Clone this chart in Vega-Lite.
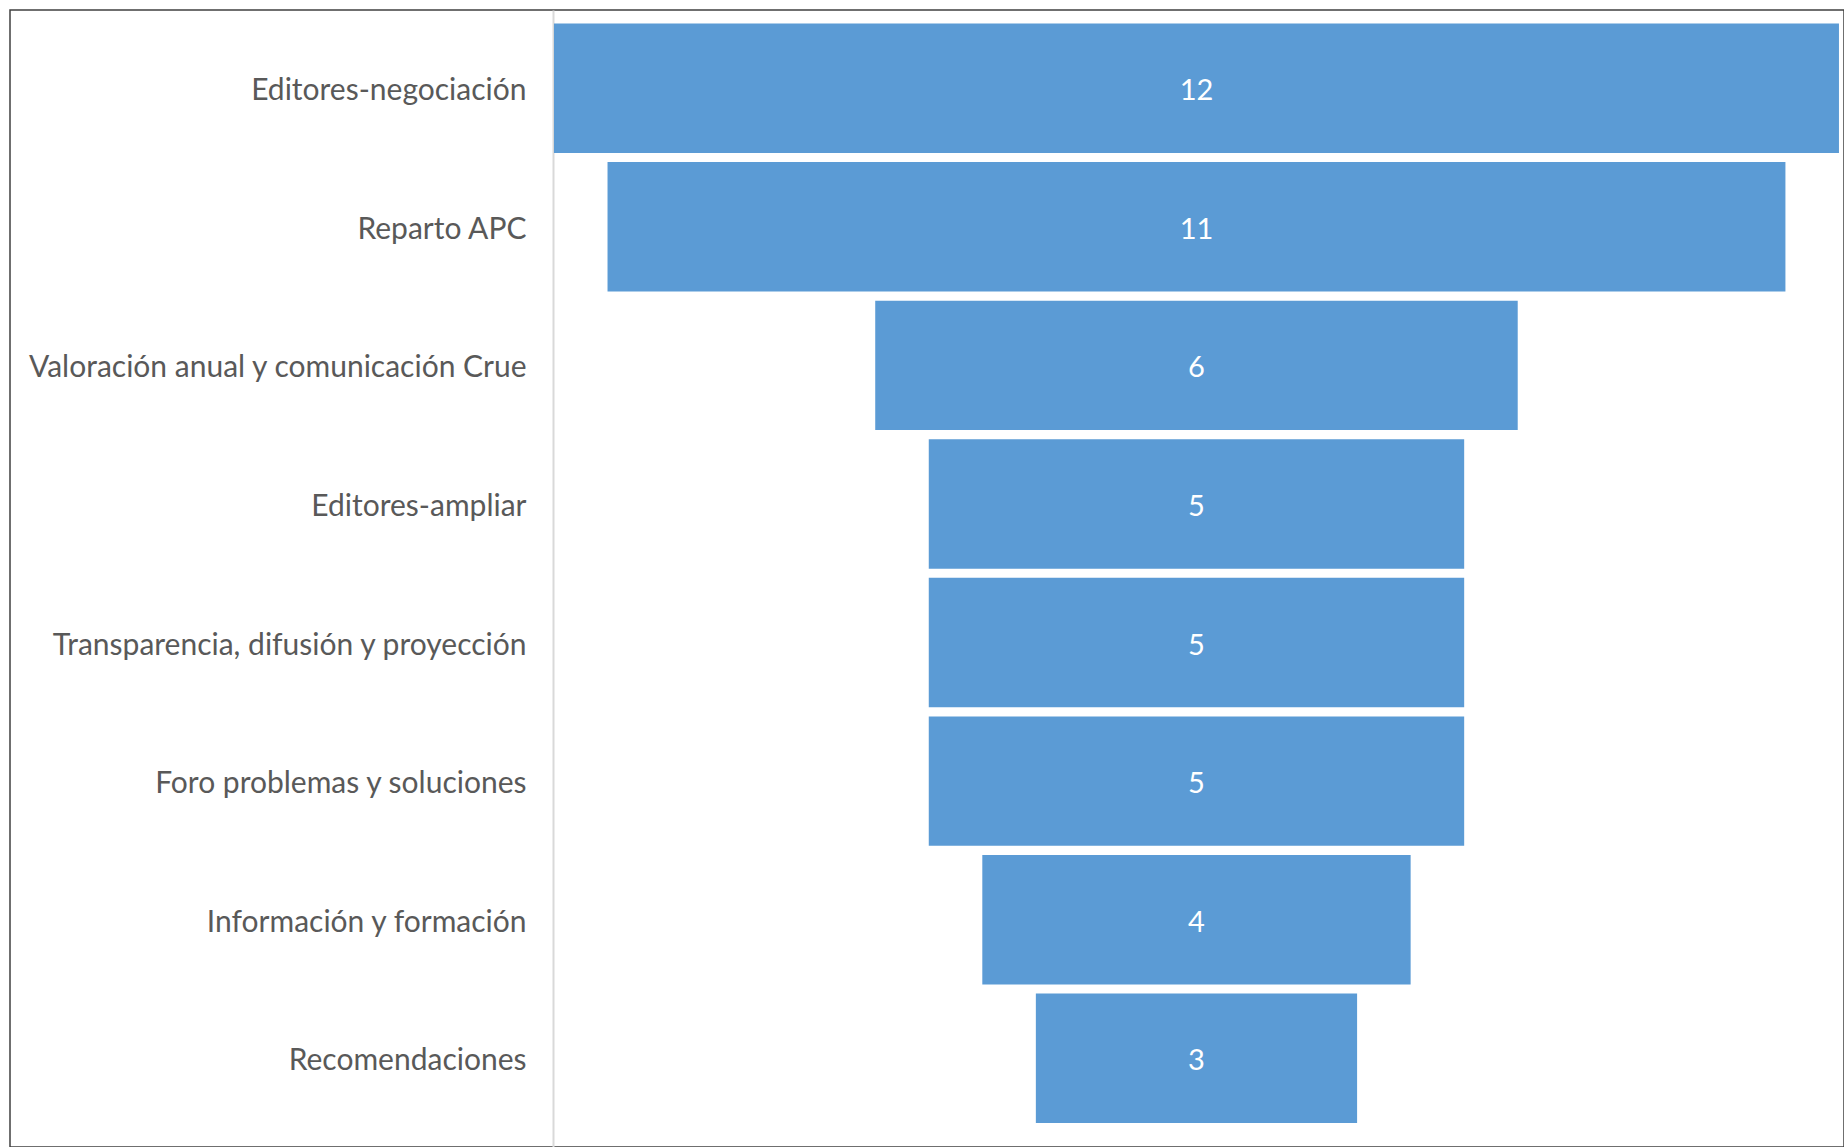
{
  "$schema": "https://vega.github.io/schema/vega-lite/v6.json",
  "width": 1834,
  "height": 1137,
  "autosize": {"type": "none"},
  "padding": {"left": 10, "top": 10, "right": 0, "bottom": 0},
  "background": "white",
  "config": {
    "view": {"stroke": "#404040", "strokeWidth": 1.5},
    "font": "Lato"
  },
  "data": {
    "values": [
      {"categoria": "Editores-negociación", "valor": 12},
      {"categoria": "Reparto APC", "valor": 11},
      {"categoria": "Valoración anual y comunicación Crue", "valor": 6},
      {"categoria": "Editores-ampliar", "valor": 5},
      {"categoria": "Transparencia, difusión y proyección", "valor": 5},
      {"categoria": "Foro problemas y soluciones", "valor": 5},
      {"categoria": "Información y formación", "valor": 4},
      {"categoria": "Recomendaciones", "valor": 3}
    ]
  },
  "encoding": {
    "y": {
      "field": "categoria",
      "type": "nominal",
      "sort": null,
      "scale": {"paddingInner": 0.066, "paddingOuter": 0.135, "align": 0.36},
      "axis": {
        "title": null,
        "offset": -543,
        "ticks": false,
        "domainColor": "#d9d9d9",
        "domainWidth": 2,
        "labelFont": "Lato",
        "labelFontSize": 30,
        "labelColor": "#595959",
        "labelPadding": 27,
        "labelOffset": 3,
        "labelLimit": 0
      }
    }
  },
  "layer": [
    {
      "mark": {"type": "bar", "color": "#5B9BD5"},
      "encoding": {
        "x": {
          "field": "valor",
          "type": "quantitative",
          "stack": "center",
          "scale": {"domain": [-5.08, 12.047], "nice": false, "zero": false},
          "axis": null
        }
      }
    },
    {
      "mark": {"type": "text", "color": "white", "fontSize": 29, "font": "Lato", "align": "center", "baseline": "middle", "dy": 3},
      "encoding": {
        "x": {"datum": 6, "type": "quantitative"},
        "text": {"field": "valor", "type": "quantitative"}
      }
    }
  ]
}
